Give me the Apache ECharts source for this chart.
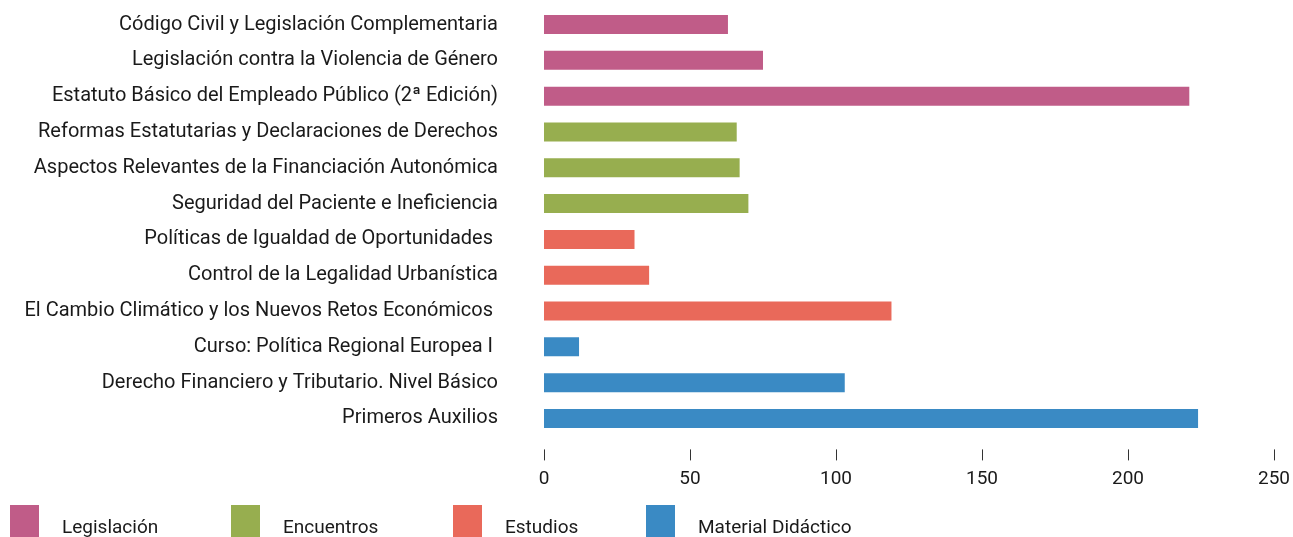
<!DOCTYPE html>
<html>
<head>
<meta charset="utf-8">
<script src="https://cdn.jsdelivr.net/npm/echarts@6/dist/echarts.min.js"></script>
<style>
  html, body { margin: 0; padding: 0; background: #ffffff; }
  #chart { width: 1293px; height: 537px; }
</style>
</head>
<body>
<div id="chart"></div>
<script>
// Publications by title, grouped into four collections
const categories = [
  'Código Civil y Legislación Complementaria',
  'Legislación contra la Violencia de Género',
  'Estatuto Básico del Empleado Público (2ª Edición)',
  'Reformas Estatutarias y Declaraciones de Derechos',
  'Aspectos Relevantes de la Financiación Autonómica',
  'Seguridad del Paciente e Ineficiencia',
  'Políticas de Igualdad de Oportunidades ',
  'Control de la Legalidad Urbanística',
  'El Cambio Climático y los Nuevos Retos Económicos ',
  'Curso: Política Regional Europea I ',
  'Derecho Financiero y Tributario. Nivel Básico',
  'Primeros Auxilios'
];
const values = [63, 75, 221, 66, 67, 70, 31, 36, 119, 12, 103, 224];
const groupOf = [0, 0, 0, 1, 1, 1, 2, 2, 2, 3, 3, 3];
const groups = ['Legislación', 'Encuentros', 'Estudios', 'Material Didáctico'];
const groupColors = ['#C05C88', '#97AE4F', '#E9695A', '#3A8AC4'];
const xTicks = [0, 50, 100, 150, 200, 250];

const FONT = 'Roboto';
const legendLefts = [10, 231, 453, 646];

const series = groups.map((g, gi) => ({
  name: g,
  type: 'bar',
  stack: 'all',
  barWidth: 19,
  itemStyle: { color: groupColors[gi] },
  data: values.map((v, i) => (groupOf[i] === gi ? v : '-'))
}));

// one legend block per collection so each swatch sits at its own column
const legends = groups.map((g, gi) => ({
  data: [g],
  left: legendLefts[gi],
  top: 505,
  orient: 'horizontal',
  icon: 'rect',
  itemWidth: 29,
  itemHeight: 32,
  selectedMode: false,
  padding: 0,
  formatter: '{t|{name}}',
  textStyle: {
    fontFamily: FONT,
    fontSize: 19,
    color: '#1a1a1a',
    rich: {
      t: { fontFamily: FONT, fontSize: 19, color: '#1a1a1a', padding: [14, 0, 0, 18] }
    }
  }
}));

const chart = echarts.init(document.getElementById('chart'), null, { renderer: 'canvas' });
chart.setOption({
  animation: false,
  backgroundColor: '#ffffff',
  textStyle: { fontFamily: FONT },
  legend: legends,
  grid: { left: 544, right: 18, top: 6.6, bottom: 100.6, containLabel: false },
  xAxis: {
    type: 'value',
    min: xTicks[0],
    max: xTicks[xTicks.length - 1],
    interval: xTicks[1] - xTicks[0],
    offset: 13,
    splitLine: { show: false },
    axisLine: { show: false },
    axisTick: { show: true, length: 11, lineStyle: { color: '#333', width: 1 } },
    axisLabel: { fontFamily: FONT, fontSize: 19, color: '#1a1a1a', margin: 20 }
  },
  yAxis: {
    type: 'category',
    data: categories,
    inverse: true,
    axisLine: { show: false },
    axisTick: { show: false },
    splitLine: { show: false },
    axisLabel: { fontFamily: FONT, fontSize: 20, color: '#1a1a1a', margin: 46 }
  },
  series: series
});
</script>
</body>
</html>
